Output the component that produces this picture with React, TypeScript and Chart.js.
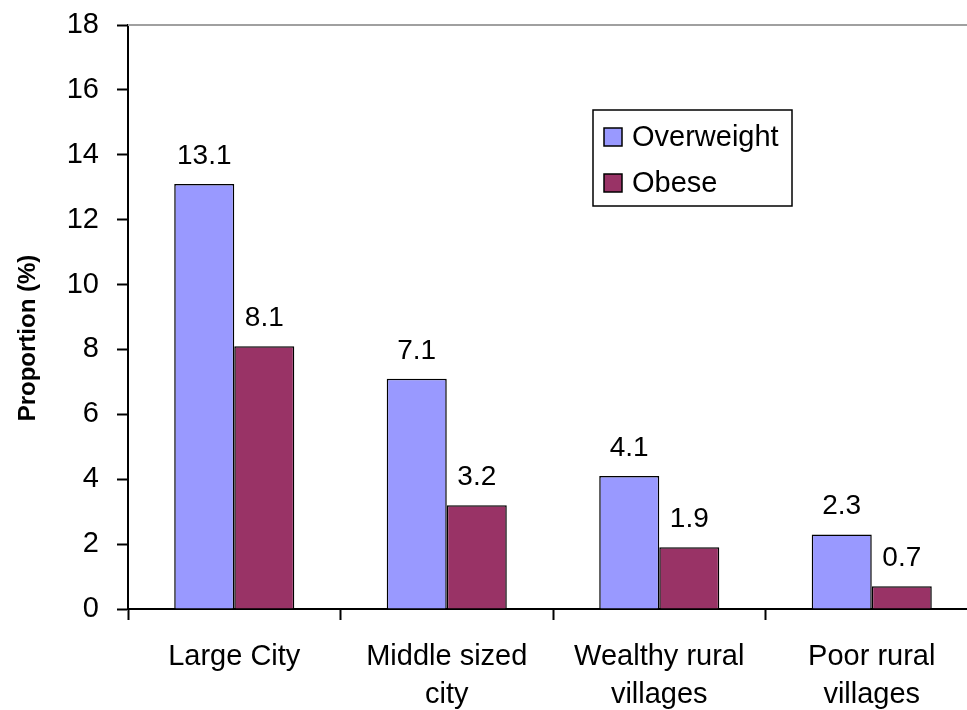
import React, { useEffect, useRef } from "react";
import { Chart, registerables } from "chart.js";

Chart.register(...registerables);

const categories: string[][] = [
  ["Large City"],
  ["Middle sized", "city"],
  ["Wealthy rural", "villages"],
  ["Poor rural", "villages"],
];
const overweight = [13.1, 7.1, 4.1, 2.3];
const obese = [8.1, 3.2, 1.9, 0.7];
const seriesNames = ["Overweight", "Obese"];
const seriesColors = ["#9999FF", "#993366"];
const yTitle = "Proportion (%)";

const FONT = "'Liberation Sans', Arial, sans-serif";

const overlayPlugin = {
  id: "overlay",
  afterDraw(chart: any) {
    const ctx = chart.ctx as CanvasRenderingContext2D;
    const area = chart.chartArea;
    ctx.save();
    // top border of plot area
    ctx.strokeStyle = "#a0a0a0";
    ctx.lineWidth = 2;
    ctx.beginPath();
    ctx.moveTo(area.left, area.top);
    ctx.lineTo(area.right + 10, area.top);
    ctx.stroke();

    // value labels
    ctx.fillStyle = "#000";
    ctx.font = `28px ${FONT}`;
    ctx.textAlign = "center";
    ctx.textBaseline = "alphabetic";
    chart.data.datasets.forEach((ds: any, di: number) => {
      const meta = chart.getDatasetMeta(di);
      meta.data.forEach((bar: any, i: number) => {
        ctx.fillText(String(ds.data[i].toFixed(1)), bar.x, bar.y - 20);
      });
    });

    // y title
    ctx.save();
    ctx.translate(28, 338);
    ctx.rotate(-Math.PI / 2);
    ctx.font = `bold 24px ${FONT}`;
    ctx.textAlign = "center";
    ctx.textBaseline = "middle";
    ctx.fillText(yTitle, 0, 0);
    ctx.restore();

    // legend
    const lx = 593, ly = 110, lw = 199, lh = 96;
    ctx.fillStyle = "#fff";
    ctx.fillRect(lx, ly, lw, lh);
    ctx.strokeStyle = "#000";
    ctx.lineWidth = 1.5;
    ctx.strokeRect(lx, ly, lw, lh);
    const rows = [137, 183];
    seriesNames.forEach((name, i) => {
      ctx.fillStyle = seriesColors[i];
      ctx.fillRect(604, rows[i] - 9, 18, 18);
      ctx.strokeStyle = "#000";
      ctx.lineWidth = 1.5;
      ctx.strokeRect(604, rows[i] - 9, 18, 18);
      ctx.fillStyle = "#000";
      ctx.font = `29px ${FONT}`;
      ctx.textAlign = "left";
      ctx.textBaseline = "middle";
      ctx.fillText(name, 632, rows[i] + 1);
    });
    ctx.restore();
  },
};

export default function App() {
  const ref = useRef<HTMLCanvasElement>(null);
  useEffect(() => {
    if (!ref.current) return;
    const chart = new Chart(ref.current, {
      type: "bar",
      data: {
        labels: categories,
        datasets: [
          {
            label: seriesNames[0],
            data: overweight,
            backgroundColor: seriesColors[0],
            borderColor: "#000",
            borderWidth: 1.5,
            categoryPercentage: 0.565,
            barPercentage: 1,
          },
          {
            label: seriesNames[1],
            data: obese,
            backgroundColor: seriesColors[1],
            borderColor: "#000",
            borderWidth: 1.5,
            categoryPercentage: 0.565,
            barPercentage: 1,
          },
        ],
      },
      options: {
        responsive: false,
        animation: false,
        layout: { padding: { top: 25, right: 2, left: 0, bottom: 0 } },
        plugins: { legend: { display: false }, tooltip: { enabled: false } },
        scales: {
          x: {
            grid: {
              offset: true,
              drawOnChartArea: false,
              tickLength: 11,
              color: "#000",
              tickWidth: 2,
            },
            border: { color: "#000", width: 2 },
            ticks: {
              color: "#000",
              font: { family: FONT, size: 29, lineHeight: 1.3 },
              padding: 18,
              maxRotation: 0,
              autoSkip: false,
            },
            afterFit(scale: any) {
              scale.height = 101;
              scale.paddingLeft = 0;
              scale.paddingRight = 0;
            },
          },
          y: {
            min: 0,
            max: 18,
            ticks: {
              stepSize: 2,
              color: "#000",
              font: { family: FONT, size: 29 },
              padding: 18,
            },
            grid: {
              drawOnChartArea: false,
              tickLength: 11,
              color: "#000",
              tickWidth: 2,
            },
            border: { color: "#000", width: 2 },
            afterFit(scale: any) {
              scale.width = 128;
              scale.paddingTop = 0;
              scale.paddingBottom = 0;
            },
          },
        },
      },
      plugins: [overlayPlugin],
    });
    return () => chart.destroy();
  }, []);
  return (
    <div
      style={{
        position: "fixed",
        left: 0,
        top: 0,
        width: 967,
        height: 710,
        overflow: "hidden",
        background: "#fff",
      }}
    >
      <canvas ref={ref} width={980} height={710} style={{ display: "block" }} />
    </div>
  );
}
